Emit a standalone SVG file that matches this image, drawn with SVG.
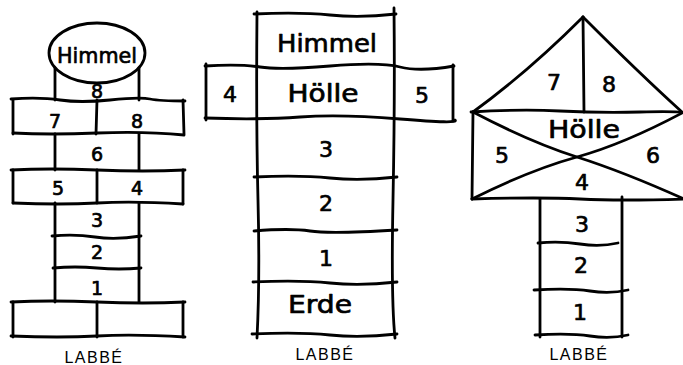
<svg xmlns="http://www.w3.org/2000/svg" width="683" height="365" viewBox="0 0 683 365">
  <style>
    .ln { fill: none; stroke: #000; stroke-width: 2.8; stroke-linecap: round; stroke-linejoin: round; }
    .lb { font-family: "DejaVu Sans", "Noto Sans", sans-serif; font-weight: normal; fill: #000; stroke: #000; stroke-width: 0.7; stroke-linejoin: round; text-anchor: middle; }
    .sm { font-size: 19px; }
    .md { font-size: 22px; }
    .wd { font-size: 24px; }
    .cap { font-family: "Liberation Sans", Arial, sans-serif; font-size: 16px; fill: #000; text-anchor: middle; letter-spacing: 1.5px; }
  </style>
  <rect width="683" height="365" fill="#fff"/>

  <!-- Court 1: oval top, paired squares -->
  <g id="court-left">
    <g id="left-lines">
      <ellipse class="ln" cx="97" cy="53" rx="48" ry="30"/>
      <path class="ln" d="M55,68 L55,100 M139,68 L139,100"/>
      <!-- 7 | 8 -->
      <path class="ln" d="M11,99 Q40,97 60,100 T110,100 T150,99 T185,101"/>
      <path class="ln" d="M13,100 L13,134 M183,100 L184,134 M97,100 L96,134"/>
      <path class="ln" d="M13,133 Q50,135 97,133 T184,135"/>
      <!-- 6 -->
      <path class="ln" d="M55,134 L55,170 M139,134 L139,170"/>
      <!-- 5 | 4 -->
      <path class="ln" d="M11,170 Q50,168 97,170 T185,170"/>
      <path class="ln" d="M13,170 L13,203 M183,170 L183,204 M97,170 L97,203"/>
      <path class="ln" d="M13,203 Q60,205 97,203 T183,204"/>
      <!-- 3, 2, 1 -->
      <path class="ln" d="M55,203 L55,302 M139,203 L139,302"/>
      <path class="ln" d="M52,236 Q75,234 95,237 T141,236"/>
      <path class="ln" d="M53,268 Q75,266 97,268 T141,268"/>
      <!-- start squares -->
      <path class="ln" d="M11,302 Q50,300 97,302 T185,302"/>
      <path class="ln" d="M13,302 L13,337 M183,302 L183,337 M97,302 L97,337"/>
      <path class="ln" d="M11,336 Q60,338 97,336 T185,337"/>
    </g>
    <g id="left-labels">
      <text class="lb" x="97" y="63" font-size="22" textLength="80" lengthAdjust="spacingAndGlyphs">Himmel</text>
      <text class="lb sm" x="97" y="98">8</text>
      <text class="lb sm" x="55" y="128">7</text>
      <text class="lb sm" x="137" y="128">8</text>
      <text class="lb sm" x="97" y="161">6</text>
      <text class="lb sm" x="58" y="195">5</text>
      <text class="lb sm" x="137" y="195">4</text>
      <text class="lb sm" x="97" y="227">3</text>
      <text class="lb sm" x="97" y="259">2</text>
      <text class="lb sm" x="97" y="295">1</text>
      <text class="cap" x="94" y="363">LABBÉ</text>
    </g>
  </g>

  <!-- Court 2: straight ladder with side boxes -->
  <g id="court-middle">
    <g id="middle-lines">
      <path class="ln" d="M257,12 Q256,120 258,200 T257,338"/>
      <path class="ln" d="M394,8 Q395,100 393,200 T395,338"/>
      <path class="ln" d="M254,14 Q300,12 330,15 T396,14"/>
      <!-- Hölle row with 4 and 5 -->
      <path class="ln" d="M205,66 Q240,64 260,67 T330,66 T400,67 T454,66"/>
      <path class="ln" d="M205,118 Q260,120 300,117 T400,119 T455,120"/>
      <path class="ln" d="M206,64 L206,120 M453,65 L453,121"/>
      <!-- 3, 2, 1, Erde -->
      <path class="ln" d="M254,177 Q300,175 330,178 T397,177"/>
      <path class="ln" d="M254,231 Q290,228 310,231 T397,230"/>
      <path class="ln" d="M253,282 Q300,280 330,283 T397,282"/>
      <path class="ln" d="M252,334 Q300,332 330,335 T397,334"/>
    </g>
    <g id="middle-labels">
      <text class="lb" x="327" y="52" font-size="25" textLength="100" lengthAdjust="spacingAndGlyphs">Himmel</text>
      <text class="lb md" x="230" y="102">4</text>
      <text class="lb wd" x="323" y="102" textLength="71" lengthAdjust="spacingAndGlyphs">Hölle</text>
      <text class="lb md" x="422" y="103">5</text>
      <text class="lb md" x="326" y="157">3</text>
      <text class="lb md" x="326" y="211">2</text>
      <text class="lb md" x="326" y="266">1</text>
      <text class="lb wd" x="320" y="313" textLength="64" lengthAdjust="spacingAndGlyphs">Erde</text>
      <text class="cap" x="325" y="360">LABBÉ</text>
    </g>
  </g>

  <!-- Court 3: roof with crossed Hölle box -->
  <g id="court-right">
    <g id="right-lines">
      <path class="ln" d="M473,112 Q528,72 583,17"/>
      <path class="ln" d="M583,17 Q640,74 682,112"/>
      <path class="ln" d="M583,17 L584,112"/>
      <path class="ln" d="M471,112 Q520,109 560,111 T640,112 T684,113"/>
      <path class="ln" d="M473,112 L472,199"/>
      <path class="ln" d="M472,199 Q540,197 580,199 T684,199"/>
      <path class="ln" d="M473,112 Q530,142 577,157 T684,199"/>
      <path class="ln" d="M472,199 Q530,170 577,157 T684,112"/>
      <!-- 3, 2, 1 -->
      <path class="ln" d="M540,199 L540,337 M622,197 L622,337"/>
      <path class="ln" d="M538,243 Q560,241 580,244 T618,243"/>
      <path class="ln" d="M534,290 Q570,288 590,291 T628,290"/>
      <path class="ln" d="M535,335 Q570,333 590,336 T628,335"/>
    </g>
    <g id="right-labels">
      <text class="lb md" x="554" y="90">7</text>
      <text class="lb md" x="609" y="92">8</text>
      <text class="lb wd" x="584" y="138" textLength="72" lengthAdjust="spacingAndGlyphs">Hölle</text>
      <text class="lb md" x="502" y="163">5</text>
      <text class="lb md" x="653" y="163">6</text>
      <text class="lb md" x="582" y="190">4</text>
      <text class="lb md" x="582" y="232">3</text>
      <text class="lb md" x="581" y="273">2</text>
      <text class="lb md" x="580" y="320">1</text>
      <text class="cap" x="579" y="360">LABBÉ</text>
    </g>
  </g>
</svg>
